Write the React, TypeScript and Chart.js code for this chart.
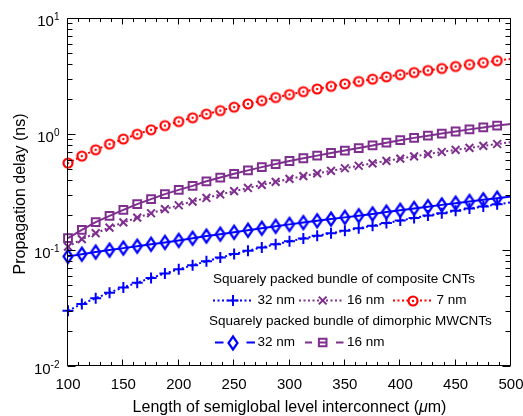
import { useEffect, useRef } from 'react';
import { Chart, registerables } from 'chart.js';

Chart.register(...registerables);

// Interconnect length (µm)
const LENGTH_UM = [
  100, 112.5, 125, 137.5, 150, 162.5, 175, 187.5, 200, 212.5, 225, 237.5, 250,
  262.5, 275, 287.5, 300, 312.5, 325, 337.5, 350, 362.5, 375, 387.5, 400, 412.5,
  425, 437.5, 450, 462.5, 475, 487.5, 500,
];

// Propagation delay (ns) — squarely packed bundle of composite CNTs
const COMPOSITE_32NM = [
  0.03, 0.0343, 0.0384, 0.0429, 0.0476, 0.0523, 0.0574, 0.0627, 0.0682, 0.0739,
  0.0799, 0.086, 0.0922, 0.0986, 0.1053, 0.112, 0.1189, 0.1257, 0.1326, 0.1396,
  0.1467, 0.1542, 0.162, 0.1705, 0.1795, 0.1888, 0.1982, 0.2078, 0.2176, 0.2274,
  0.2373, 0.2474, 0.2574,
];
const COMPOSITE_16NM = [
  0.107, 0.124, 0.1396, 0.1561, 0.173, 0.19, 0.2074, 0.2249, 0.243, 0.2617,
  0.281, 0.3012, 0.3216, 0.3426, 0.3644, 0.3869, 0.4099, 0.4333, 0.4571, 0.4814,
  0.5068, 0.5326, 0.5587, 0.5859, 0.6134, 0.6422, 0.6709, 0.6995, 0.7293, 0.7584,
  0.7895, 0.8199, 0.8514,
];
const COMPOSITE_7NM = [
  0.561, 0.645, 0.731, 0.817, 0.905, 0.996, 1.087, 1.182, 1.279, 1.38, 1.485,
  1.592, 1.703, 1.818, 1.938, 2.062, 2.188, 2.317, 2.445, 2.575, 2.706, 2.838,
  2.971, 3.11, 3.249, 3.387, 3.531, 3.674, 3.823, 3.97, 4.123, 4.281, 4.437,
];

// Propagation delay (ns) — squarely packed bundle of dimorphic MWCNTs
const MWCNT_32NM = [
  0.0881, 0.092, 0.0959, 0.0998, 0.1038, 0.1078, 0.112, 0.1163, 0.121, 0.1262,
  0.1318, 0.1369, 0.1421, 0.1479, 0.1539, 0.1601, 0.1663, 0.1723, 0.1786, 0.1848,
  0.1911, 0.1976, 0.2048, 0.2123, 0.2201, 0.2281, 0.2364, 0.2449, 0.2533, 0.262,
  0.271, 0.2798, 0.2888,
];
const MWCNT_16NM = [
  0.1264, 0.149, 0.1738, 0.197, 0.2218, 0.2484, 0.2744, 0.303, 0.33, 0.357, 0.391,
  0.4213, 0.4535, 0.486, 0.518, 0.551, 0.585, 0.618, 0.651, 0.686, 0.72, 0.757,
  0.797, 0.841, 0.884, 0.926, 0.967, 1.008, 1.051, 1.096, 1.14, 1.182, 1.222,
];

const X_TICKS = [100, 150, 200, 250, 300, 350, 400, 450, 500];
const X_MINOR_STEP = 10;
const Y_DECADES = [-2, -1, 0, 1];

const X_TITLE_MAIN = 'Length of semiglobal level interconnect (';
const X_TITLE_MU = 'μ';
const X_TITLE_END = 'm)';
const Y_TITLE = 'Propagation delay (ns)';
const LEGEND_COMPOSITE = 'Squarely packed bundle of composite CNTs';
const LEGEND_MWCNT = 'Squarely packed bundle of dimorphic MWCNTs';

const BLUE = '#0000FF';
const PURPLE = '#7E2F8E';
const RED = '#FF0000';
const DOTS = [2, 2.5];
const SANS = '"Liberation Sans", Arial, sans-serif';

function ringMarker(color: string) {
  const c = document.createElement('canvas');
  c.width = 14;
  c.height = 14;
  const g = c.getContext('2d')!;
  g.beginPath();
  g.arc(7, 7, 4.5, 0, Math.PI * 2);
  g.fillStyle = '#fff';
  g.fill();
  g.strokeStyle = color;
  g.lineWidth = 2.2;
  g.stroke();
  g.beginPath();
  g.arc(7, 7, 1.2, 0, Math.PI * 2);
  g.fillStyle = color;
  g.fill();
  return c;
}

function diamondMarker(color: string) {
  const c = document.createElement('canvas');
  c.width = 14;
  c.height = 20;
  const g = c.getContext('2d')!;
  g.strokeStyle = color;
  g.lineWidth = 2.2;
  g.beginPath();
  g.moveTo(7, 3.5);
  g.lineTo(11.5, 10);
  g.lineTo(7, 16.5);
  g.lineTo(2.5, 10);
  g.closePath();
  g.stroke();
  return c;
}

const lastIndex = LENGTH_UM.length - 1;
const toPoints = (ys: number[]) => LENGTH_UM.map((x, i) => ({ x, y: ys[i] }));
const radius = (r: number) => (ctx: any) => (ctx.dataIndex === lastIndex ? 0 : r);

function drawFrame(chart: any) {
  const { ctx, chartArea: a } = chart;
  const xs = chart.scales.x;
  const ys = chart.scales.y;
  const L = a.left - 0.5;
  const R = a.right - 0.5;
  const T = a.top + 0.5;
  const B = a.bottom - 0.5;
  ctx.save();
  ctx.strokeStyle = '#000';
  ctx.lineWidth = 1;
  ctx.setLineDash([]);
  ctx.beginPath();
  ctx.rect(L, T, R - L, B - T);
  // x ticks, bottom and top, pointing inward
  for (let v = X_TICKS[0]; v <= X_TICKS[X_TICKS.length - 1] + 1e-6; v += X_MINOR_STEP) {
    const px = Math.round(xs.getPixelForValue(v)) - 0.5;
    const len = X_TICKS.includes(v) ? 6 : 3.5;
    ctx.moveTo(px, B);
    ctx.lineTo(px, B - len);
    ctx.moveTo(px, T);
    ctx.lineTo(px, T + len);
  }
  // y ticks, left and right, pointing inward
  for (const e of Y_DECADES) {
    for (let m = 1; m <= 9; m++) {
      if (e === Y_DECADES[Y_DECADES.length - 1] && m > 1) break;
      const py = Math.round(ys.getPixelForValue(m * Math.pow(10, e))) + 0.5;
      const len = m === 1 ? 8 : 5;
      ctx.moveTo(L, py);
      ctx.lineTo(L + len, py);
      ctx.moveTo(R, py);
      ctx.lineTo(R - len, py);
    }
  }
  ctx.stroke();

  // tick labels
  ctx.fillStyle = '#000';
  ctx.font = `15px ${SANS}`;
  ctx.textAlign = 'center';
  ctx.textBaseline = 'alphabetic';
  for (const v of X_TICKS) {
    ctx.fillText(String(v), xs.getPixelForValue(v), 389);
  }
  for (const e of Y_DECADES) {
    const py = ys.getPixelForValue(Math.pow(10, e));
    const exp = e < 0 ? `-${-e}` : String(e);
    ctx.font = `10px ${SANS}`;
    const we = ctx.measureText(exp).width;
    ctx.textAlign = 'left';
    const right = 59.5;
    ctx.fillText(exp, right - we, py + 1.5);
    ctx.font = `15px ${SANS}`;
    const wb = ctx.measureText('10').width;
    ctx.fillText('10', right - we - wb, py + 8);
  }

  // axis titles
  ctx.font = `16px ${SANS}`;
  const w1 = ctx.measureText(X_TITLE_MAIN).width;
  const w3 = ctx.measureText(X_TITLE_END).width;
  ctx.font = `italic 16px ${SANS}`;
  const w2 = ctx.measureText(X_TITLE_MU).width;
  const cx = (a.left + a.right) / 2;
  let tx = cx - (w1 + w2 + w3) / 2;
  ctx.textAlign = 'left';
  ctx.font = `16px ${SANS}`;
  ctx.fillText(X_TITLE_MAIN, tx, 412);
  tx += w1;
  ctx.font = `italic 16px ${SANS}`;
  ctx.fillText(X_TITLE_MU, tx, 412);
  tx += w2;
  ctx.font = `16px ${SANS}`;
  ctx.fillText(X_TITLE_END, tx, 412);

  ctx.save();
  ctx.translate(25, (a.top + a.bottom) / 2 + 2);
  ctx.rotate(-Math.PI / 2);
  ctx.textAlign = 'center';
  ctx.fillText(Y_TITLE, 0, 0);
  ctx.restore();
  ctx.restore();
}

function drawLegend(chart: any, marks: Record<string, HTMLCanvasElement>) {
  const { ctx } = chart;
  ctx.save();
  ctx.font = `13.5px ${SANS}`;
  ctx.fillStyle = '#000';
  ctx.textAlign = 'left';
  ctx.textBaseline = 'middle';
  ctx.fillText(LEGEND_COMPOSITE, 213, 279);
  ctx.fillText(LEGEND_MWCNT, 209, 321.5);

  const dotted = (x0: number, x1: number, y: number, color: string) => {
    ctx.save();
    ctx.strokeStyle = color;
    ctx.lineWidth = 2;
    ctx.setLineDash(DOTS);
    ctx.beginPath();
    ctx.moveTo(x0, y);
    ctx.lineTo(x1, y);
    ctx.stroke();
    ctx.restore();
  };
  const solid = (x0: number, x1: number, y: number, color: string) => {
    ctx.save();
    ctx.strokeStyle = color;
    ctx.lineWidth = 2;
    ctx.setLineDash([]);
    ctx.beginPath();
    ctx.moveTo(x0, y);
    ctx.lineTo(x1, y);
    ctx.stroke();
    ctx.restore();
  };
  const stroke = (color: string, path: () => void) => {
    ctx.save();
    ctx.strokeStyle = color;
    ctx.lineWidth = 2;
    ctx.setLineDash([]);
    ctx.beginPath();
    path();
    ctx.stroke();
    ctx.restore();
  };
  const image = (img: HTMLCanvasElement, x: number, y: number) =>
    ctx.drawImage(img, Math.round(x - img.width / 2), Math.round(y - img.height / 2));

  // composite CNTs
  const y2 = 300.5;
  dotted(213, 253, y2, BLUE);
  stroke(BLUE, () => {
    ctx.moveTo(227.5, y2);
    ctx.lineTo(238.5, y2);
    ctx.moveTo(233, y2 - 5.5);
    ctx.lineTo(233, y2 + 5.5);
  });
  dotted(299, 342, y2, PURPLE);
  stroke(PURPLE, () => {
    ctx.moveTo(322.7 - 3.9, y2 - 3.9);
    ctx.lineTo(322.7 + 3.9, y2 + 3.9);
    ctx.moveTo(322.7 - 3.9, y2 + 3.9);
    ctx.lineTo(322.7 + 3.9, y2 - 3.9);
  });
  dotted(393, 431, y2, RED);
  image(marks.ring, 413, y2);
  ctx.fillText('32 nm', 257.5, y2);
  ctx.fillText('16 nm', 347, y2);
  ctx.fillText('7 nm', 436.5, y2);

  // dimorphic MWCNTs
  const y4 = 342.5;
  solid(215, 223.5, y4, BLUE);
  solid(246.5, 255, y4, BLUE);
  image(marks.diamond, 233, y4);
  solid(305, 312, y4, PURPLE);
  solid(336, 343.5, y4, PURPLE);
  stroke(PURPLE, () => {
    ctx.rect(322.7 - 3.8, y4 - 3.8, 7.6, 7.6);
    ctx.moveTo(322.7 - 3.8, y4);
    ctx.lineTo(322.7 + 3.8, y4);
  });
  ctx.fillText('32 nm', 257.5, y4);
  ctx.fillText('16 nm', 347, y4);
  ctx.restore();
}

export default function App() {
  const ref = useRef<HTMLCanvasElement>(null);

  useEffect(() => {
    document.body.style.margin = '0';
    const ring = ringMarker(RED);
    const diamond = diamondMarker(BLUE);
    const marks = { ring, diamond };

    const common = {
      borderWidth: 2,
      pointBorderWidth: 2,
      pointBackgroundColor: 'rgba(0,0,0,0)',
      tension: 0,
      clip: 14,
    };

    const chart = new Chart(ref.current!, {
      type: 'line',
      data: {
        datasets: [
          {
            ...common,
            label: 'Composite 32 nm',
            data: toPoints(COMPOSITE_32NM),
            borderColor: BLUE,
            pointBorderColor: BLUE,
            borderDash: DOTS,
            pointStyle: 'cross',
            pointRadius: radius(5.5),
          },
          {
            ...common,
            label: 'Composite 16 nm',
            data: toPoints(COMPOSITE_16NM),
            borderColor: PURPLE,
            pointBorderColor: PURPLE,
            borderDash: DOTS,
            pointStyle: 'crossRot',
            pointRadius: radius(5.5),
          },
          {
            ...common,
            label: 'Composite 7 nm',
            data: toPoints(COMPOSITE_7NM),
            borderColor: RED,
            pointBorderColor: RED,
            borderDash: DOTS,
            pointStyle: ring,
            pointRadius: radius(5),
          },
          {
            ...common,
            label: 'MWCNT 32 nm',
            data: toPoints(MWCNT_32NM),
            borderColor: BLUE,
            pointBorderColor: BLUE,
            pointStyle: diamond,
            pointRadius: radius(6),
          },
          {
            ...common,
            label: 'MWCNT 16 nm',
            data: toPoints(MWCNT_16NM),
            borderColor: PURPLE,
            pointBorderColor: PURPLE,
            pointStyle: 'rect',
            pointRadius: radius(5.5),
          },
        ] as any,
      },
      options: {
        responsive: false,
        animation: false,
        devicePixelRatio: 1,
        events: [],
        layout: { padding: { left: 68, right: 12, top: 18, bottom: 50 } },
        plugins: {
          legend: { display: false },
          tooltip: { enabled: false },
        },
        scales: {
          x: { type: 'linear', min: 100, max: 500, display: false },
          y: { type: 'logarithmic', min: 0.01, max: 10, display: false },
        },
      },
      plugins: [
        {
          id: 'axesAndLegend',
          afterDatasetsDraw(c: any) {
            drawFrame(c);
            drawLegend(c, marks);
          },
        },
      ],
    });

    return () => chart.destroy();
  }, []);

  return <canvas ref={ref} width={523} height={416} style={{ display: 'block' }} />;
}
